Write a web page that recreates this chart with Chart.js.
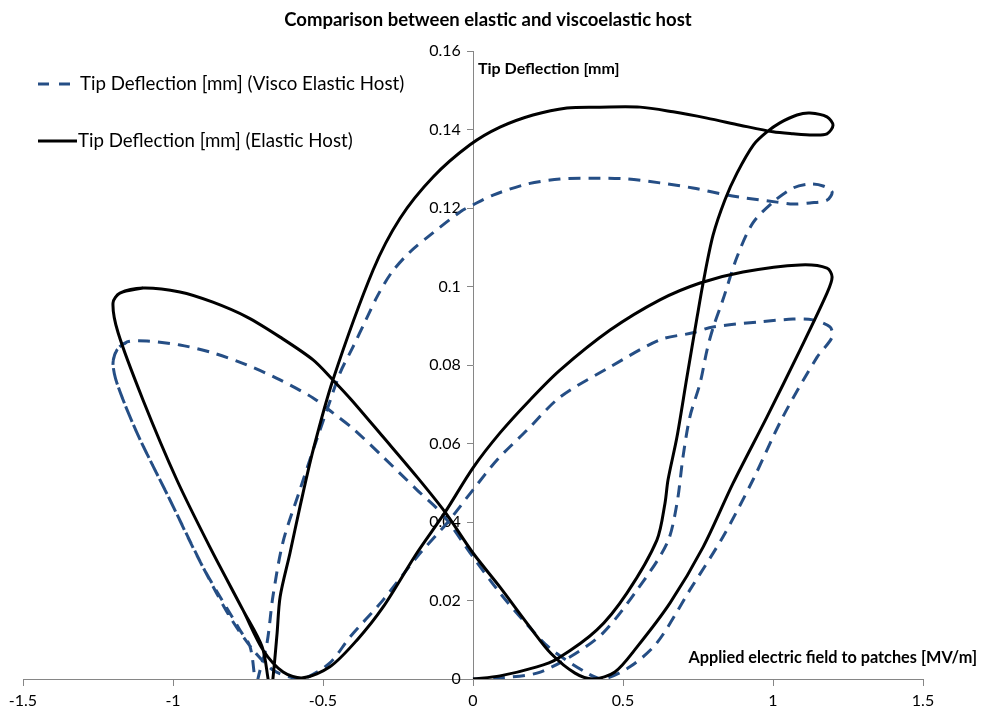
<!DOCTYPE html>
<html>
<head>
<meta charset="utf-8">
<script src="https://cdn.jsdelivr.net/npm/chart.js@4.4.1/dist/chart.umd.min.js"></script>
<style>
  html, body { margin: 0; padding: 0; background: #fff; }
  #wrap { width: 983px; height: 713px; }
</style>
</head>
<body>
<div id="wrap"><canvas id="hostChart" width="983" height="713"></canvas></div>
<script>
// tip deflection vs applied field (time order)
var elasticX = [0, 0.09, 0.213, 0.28, 0.413, 0.513, 0.613, 0.64, 0.65, 0.68, 0.713, 0.747, 0.767, 0.8, 0.84, 0.88, 0.935, 0.98, 1.023, 1.08,
  1.123, 1.18, 1.2, 1.18, 1.133, 1.067, 1.0, 0.89, 0.78, 0.667, 0.557, 0.423, 0.313, 0.2, 0.09, -0.01, -0.133, -0.243, -0.333, -0.467,
  -0.533, -0.577, -0.61, -0.643, -0.653, -0.667, -0.675, -0.683, -0.703, -0.767, -0.877, -0.987, -1.1, -1.183, -1.2, -1.177, -1.1, -0.977, -0.867, -0.753,
  -0.643, -0.533, -0.467, -0.405, -0.3, -0.187, -0.093, 0, 0.09, 0.19, 0.26, 0.34, 0.4, 0.473, 0.547, 0.657, 0.767, 0.867, 0.98, 1.09,
  1.18, 1.197, 1.18, 1.09, 0.9, 0.757, 0.623, 0.457, 0.29, 0.19, 0.09, 0, -0.093, -0.187, -0.3, -0.387, -0.477, -0.567, -0.633, -0.7,
  -0.767, -0.877, -0.987, -1.1, -1.183, -1.2, -1.177, -1.1];
var elasticY = [0, 0.0008, 0.0031, 0.0051, 0.0125, 0.0219, 0.0354, 0.0448, 0.0507, 0.0617, 0.0769, 0.0922, 0.1009, 0.113, 0.1221, 0.1289, 0.1361, 0.1394, 0.1417, 0.1437,
  0.1442, 0.1432, 0.1411, 0.1389, 0.1386, 0.1389, 0.1394, 0.1411, 0.1429, 0.1445, 0.1457, 0.1457, 0.1455, 0.1437, 0.1406, 0.1361, 0.1279, 0.1174, 0.1042, 0.0762,
  0.0583, 0.0438, 0.0321, 0.0209, 0.0117, 0, -0.004, 0, 0.0082, 0.0176, 0.0336, 0.0507, 0.0711, 0.0882, 0.0958, 0.0983, 0.0996, 0.0986, 0.096, 0.0922,
  0.0871, 0.0813, 0.0762, 0.0711, 0.0617, 0.0515, 0.0425, 0.0321, 0.0234, 0.0132, 0.0065, 0.0015, 0, 0.0018, 0.0082, 0.0194, 0.0336, 0.0499, 0.0668, 0.0838,
  0.0983, 0.1024, 0.1047, 0.1055, 0.1037, 0.1009, 0.0966, 0.0889, 0.0787, 0.0711, 0.0627, 0.0538, 0.0425, 0.0321, 0.0183, 0.0099, 0.0031, 0.0003, 0.0018, 0.0074,
  0.0176, 0.0336, 0.0507, 0.0711, 0.0882, 0.0958, 0.0983, 0.0996];

var viscoX = [0, 0.09, 0.213, 0.323, 0.433, 0.547, 0.647, 0.68, 0.7, 0.723, 0.757, 0.78, 0.8, 0.833, 0.88, 0.933, 1.0, 1.067, 1.123, 1.167,
  1.197, 1.18, 1.123, 1.067, 1.013, 0.913, 0.847, 0.733, 0.623, 0.513, 0.4, 0.29, 0.18, 0.067, 0, -0.043, -0.143, -0.21, -0.27, -0.317, -0.357,
  -0.4, -0.443, -0.487, -0.533, -0.577, -0.633, -0.667, -0.687, -0.717, -0.72, -0.727, -0.743, -0.777, -0.9, -1.01, -1.12, -1.187, -1.2, -1.187, -1.153,
  -1.087, -0.977, -0.867, -0.753, -0.643, -0.533, -0.467, -0.4, -0.3, -0.187, -0.1, 0, 0.09, 0.167, 0.257, 0.38, 0.433, 0.523, 0.613, 0.723,
  0.833, 0.933, 1.033, 1.147, 1.197, 1.19, 1.133, 1.067, 0.957, 0.8, 0.733, 0.623, 0.457, 0.29, 0.18, 0.08, 0, -0.087, -0.187, -0.3,
  -0.41, -0.477, -0.567, -0.61, -0.667, -0.733, -0.81, -0.9, -1.01, -1.12, -1.187, -1.2, -1.187, -1.153];
var viscoY = [0, 0.0003, 0.0015, 0.0056, 0.0117, 0.0227, 0.0346, 0.0448, 0.0566, 0.0668, 0.0754, 0.0838, 0.0894, 0.0966, 0.1075, 0.1162, 0.1215, 0.1251, 0.1261, 0.1256,
  0.1241, 0.122, 0.1213, 0.121, 0.1215, 0.1225, 0.1233, 0.1251, 0.1264, 0.1274, 0.1276, 0.1274, 0.1261, 0.1233, 0.1208, 0.119, 0.1131, 0.1088, 0.1037, 0.0978, 0.0915,
  0.0846, 0.078, 0.0685, 0.0583, 0.0482, 0.035, 0.021, 0.009, 0, -0.003, 0, 0.0082, 0.0125, 0.0285, 0.0456, 0.0627, 0.0754, 0.0805, 0.0838, 0.0859,
  0.0861, 0.0851, 0.0831, 0.08, 0.0762, 0.0716, 0.0678, 0.0638, 0.0566, 0.0482, 0.0418, 0.0311, 0.0219, 0.015, 0.0078, 0.0015, 0, 0.0031, 0.0092, 0.0227,
  0.0362, 0.0507, 0.0668, 0.082, 0.0871, 0.0897, 0.0915, 0.0917, 0.091, 0.0897, 0.0882, 0.0864, 0.0795, 0.0718, 0.0634, 0.0558, 0.0482, 0.0397, 0.0311, 0.0201,
  0.0107, 0.0041, 0, 0.0005, 0.0023, 0.0074, 0.0158, 0.0285, 0.0456, 0.0627, 0.0754, 0.0805, 0.0838, 0.0859];

var seriesNames = ['Tip Deflection [mm] (Visco Elastic Host)', 'Tip Deflection [mm] (Elastic Host)'];
var chartTitle = 'Comparison between elastic and viscoelastic host';
var xTitle = 'Applied electric field to patches [MV/m]';
var yTitle = 'Tip Deflection [mm]';
var xTickLabels = ['-1.5', '-1', '-0.5', '0', '0.5', '1', '1.5'];
var yTickLabels = ['0', '0.02', '0.04', '0.06', '0.08', '0.1', '0.12', '0.14', '0.16'];

var AXIS = '#868686';
var VISCO = '#254E85';
var FONT = 'Lato';
var GAP = '\u2002 '; // keeps y labels off the centred axis line

function toPoints(xs, ys) {
  return xs.map(function (x, i) { return {x: x, y: ys[i]}; });
}

// title, axis names and legend are placed freely as in the original
var overlayText = {
  id: 'overlayText',
  afterDraw: function (chart) {
    var c = chart.ctx;
    c.save();
    c.fillStyle = '#000';
    c.textBaseline = 'middle';
    c.font = 'bold 18.5px ' + FONT;
    c.textAlign = 'center';
    c.fillText(chartTitle, 488, 20);
    c.font = 'bold 16px ' + FONT;
    c.textAlign = 'left';
    c.fillText(yTitle, 478, 69);
    c.font = 'bold 16.3px ' + FONT;
    c.textAlign = 'right';
    c.fillText(xTitle, 977, 658);

    // legend
    c.lineWidth = 3;
    c.strokeStyle = VISCO;
    c.setLineDash([11, 10]);
    c.beginPath();
    c.moveTo(38, 84);
    c.lineTo(73, 84);
    c.stroke();
    c.strokeStyle = '#000';
    c.setLineDash([]);
    c.beginPath();
    c.moveTo(38, 141);
    c.lineTo(77, 141);
    c.stroke();
    c.font = '18.7px ' + FONT;
    c.textAlign = 'left';
    c.fillText(seriesNames[0], 80, 84);
    c.fillText(seriesNames[1], 78, 141);
    c.restore();
  }
};

var ctx = document.getElementById('hostChart');
var hostChart = new Chart(ctx, {
  type: 'scatter',
  data: {
    datasets: [
      {
        label: seriesNames[1],
        data: toPoints(elasticX, elasticY),
        showLine: true,
        borderColor: '#000',
        backgroundColor: '#000',
        borderWidth: 3,
        pointRadius: 0,
        tension: 0.3,
        order: 1,
      },
      {
        label: seriesNames[0],
        data: toPoints(viscoX, viscoY),
        showLine: true,
        borderColor: VISCO,
        backgroundColor: VISCO,
        borderWidth: 3,
        borderDash: [12, 8],
        pointRadius: 0,
        tension: 0.3,
        order: 2,
      },
    ]
  },
  options: {
    responsive: false,
    animation: false,
    layout: {
      padding: {left: 23, right: 60, top: 51, bottom: 34}
    },
    plugins: {
      legend: {display: false},
      title: {display: false},
      tooltip: {enabled: false},
    },
    scales: {
      x: {
        type: 'linear',
        position: {y: 0},
        min: -1.5,
        max: 1.5,
        ticks: {
          stepSize: 0.5,
          color: '#000',
          padding: 4,
          font: {family: FONT, size: 16, lineHeight: 1.5},
          callback: function (value, index) { return xTickLabels[index]; }
        },
        grid: {drawOnChartArea: false, drawTicks: true, tickLength: 6, color: AXIS},
        border: {color: AXIS, width: 1},
      },
      y: {
        type: 'linear',
        position: {x: 0},
        min: 0,
        max: 0.16,
        ticks: {
          stepSize: 0.02,
          color: '#000',
          font: {family: FONT, size: 16},
          callback: function (value, index) { return yTickLabels[index] + GAP; }
        },
        grid: {drawOnChartArea: false, drawTicks: true, tickLength: 6, color: AXIS},
        border: {color: AXIS, width: 1},
      }
    }
  },
  plugins: [overlayText]
});
</script>
</body>
</html>
